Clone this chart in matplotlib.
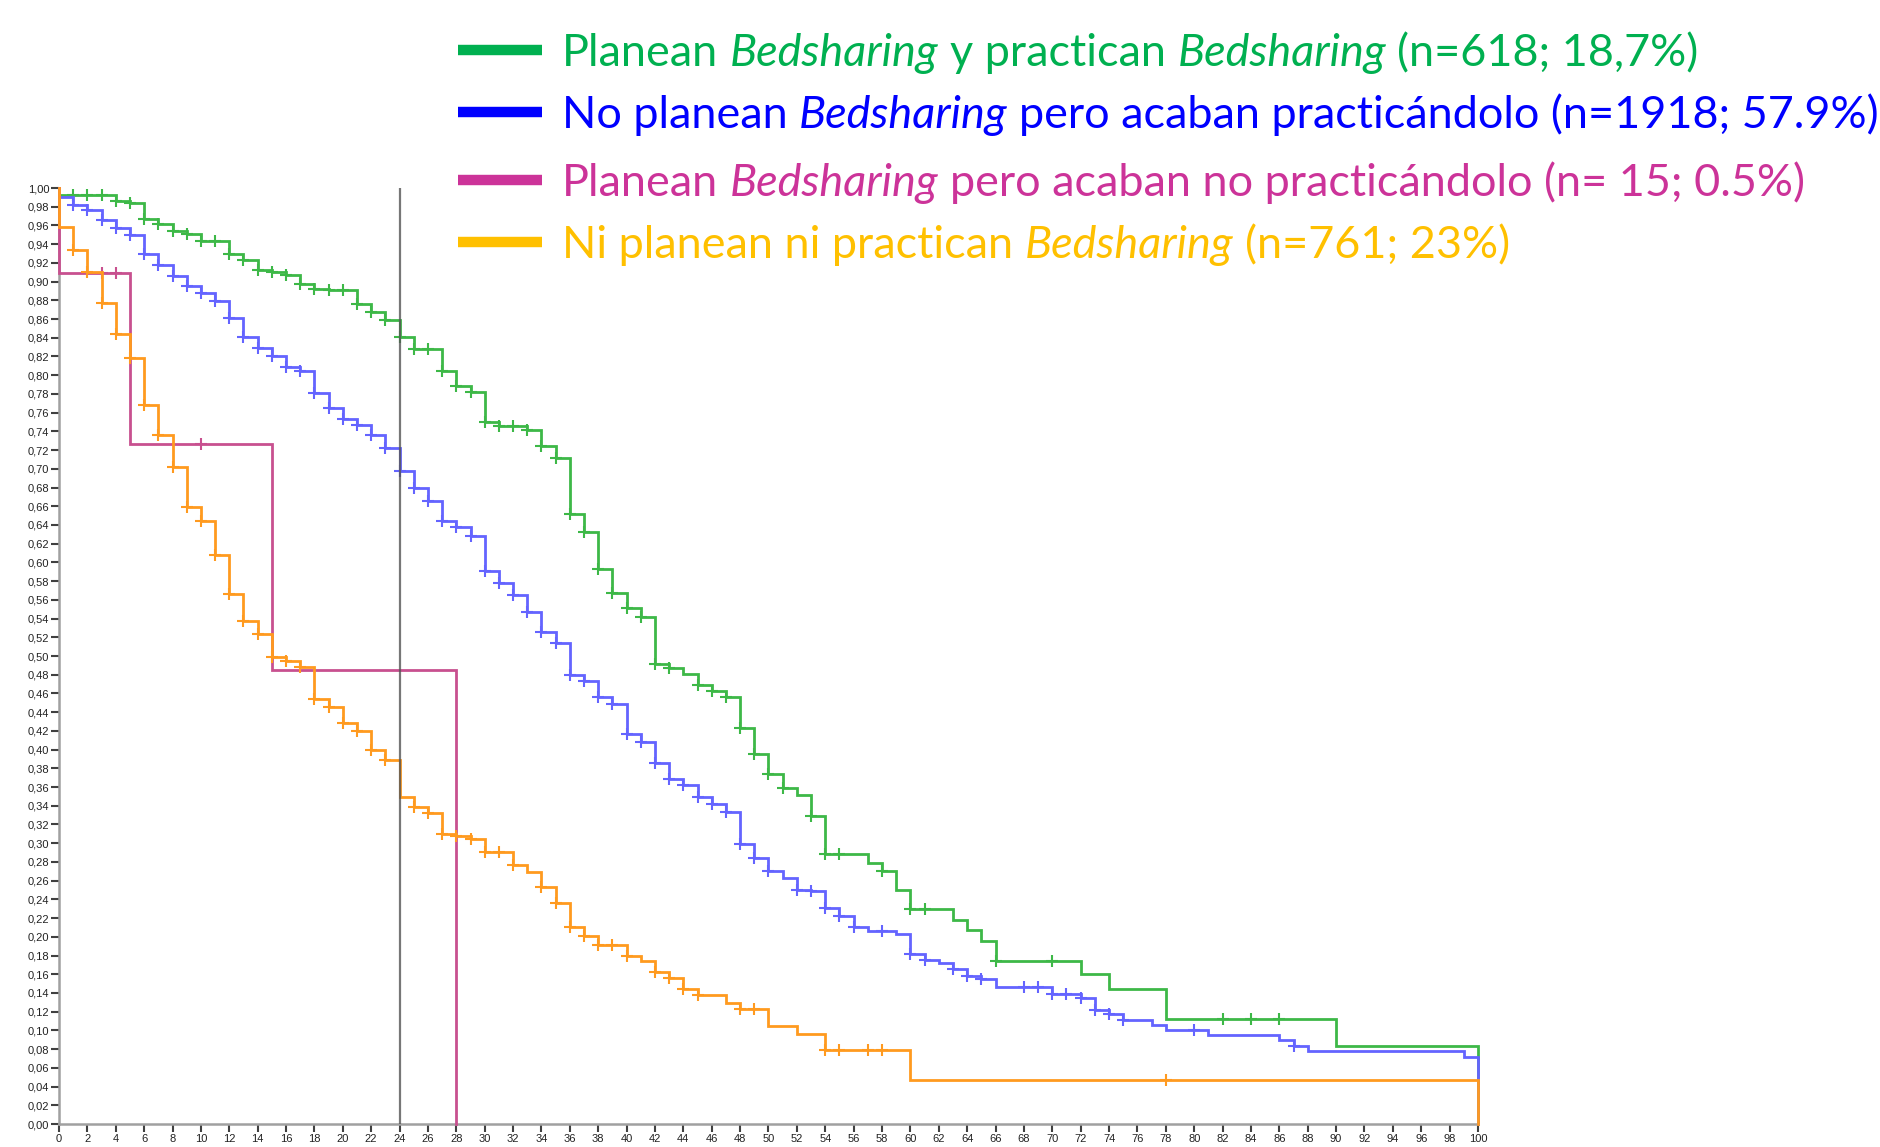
import matplotlib
matplotlib.use("Agg")
import matplotlib.pyplot as plt
from matplotlib.lines import Line2D

# ---------------- data ----------------
green_t = [0, 4, 5, 6, 7, 8, 9, 10, 12, 13, 14, 15, 16, 17, 18, 19, 21, 22, 23, 24, 25, 27, 28, 29,
           30, 31, 33, 34, 35, 36, 37, 38, 39, 40, 41, 42, 43, 44, 45, 46, 47, 48, 49, 50, 51, 52,
           53, 54, 57, 58, 59, 60, 63, 64, 65, 66, 72, 74, 78, 90, 100]
green_s = [0.992, 0.9865, 0.984, 0.967, 0.9615, 0.9545, 0.951, 0.943, 0.929, 0.923, 0.912, 0.910,
           0.9075, 0.8975, 0.8925, 0.891, 0.876, 0.868, 0.8595, 0.841, 0.8285, 0.805, 0.788, 0.782,
           0.7497, 0.746, 0.7415, 0.7247, 0.7112, 0.6517, 0.632, 0.5926, 0.5677, 0.5516, 0.5413,
           0.4918, 0.4872, 0.4808, 0.469, 0.4626, 0.4565, 0.4234, 0.3958, 0.3744, 0.359, 0.352,
           0.329, 0.2887, 0.279, 0.270, 0.250, 0.2297, 0.2183, 0.2072, 0.1958, 0.1745, 0.1607,
           0.1445, 0.112, 0.0835, 0.0]
green_cens = list(range(1, 44)) + [45, 46, 47, 48, 49, 50, 51, 53, 54, 55, 58, 60, 61, 66, 70, 82, 84, 86]

blue_t = [0, 1, 2, 3, 4, 5, 6, 7, 8, 9, 10, 11, 12, 13, 14, 15, 16, 17, 18, 19, 20, 21, 22, 23, 24,
          25, 26, 27, 28, 29, 30, 31, 32, 33, 34, 35, 36, 37, 38, 39, 40, 41, 42, 43, 44, 45, 46,
          47, 48, 49, 50, 51, 52, 53, 54, 55, 56, 57, 59, 60, 61, 62, 63, 64, 65, 66, 70, 72, 73,
          74, 75, 77, 78, 81, 86, 87, 88, 99, 100]
blue_s = [0.990, 0.982, 0.976, 0.966, 0.957, 0.950, 0.9295, 0.9175, 0.9064, 0.8957, 0.888, 0.879,
          0.861, 0.8406, 0.829, 0.820, 0.8085, 0.805, 0.781, 0.765, 0.7534, 0.747, 0.7356, 0.7224,
          0.698, 0.680, 0.6655, 0.644, 0.638, 0.628, 0.5911, 0.5783, 0.5652, 0.5467, 0.5253,
          0.5135, 0.4797, 0.4733, 0.4565, 0.4487, 0.417, 0.4076, 0.386, 0.369, 0.362, 0.349,
          0.3415, 0.3335, 0.2994, 0.2844, 0.270, 0.263, 0.250, 0.2487, 0.2304, 0.2226, 0.211,
          0.2065, 0.203, 0.1815, 0.1754, 0.172, 0.1654, 0.1583, 0.1554, 0.146, 0.139, 0.135,
          0.1213, 0.117, 0.1114, 0.106, 0.1007, 0.0949, 0.0893, 0.0835, 0.078, 0.0717, 0.0]
blue_cens = list(range(1, 51)) + [52, 53, 54, 55, 56, 58, 60, 61, 63, 64, 65, 68, 69, 70, 71, 72,
                                  73, 74, 75, 80, 87]

magenta_t = [0, 5, 15, 28]
magenta_s = [0.909, 0.727, 0.485, 0.0]
magenta_cens = [3, 4, 10]

orange_t = [0, 1, 2, 3, 4, 5, 6, 7, 8, 9, 10, 11, 12, 13, 14, 15, 16, 17, 18, 19, 20, 21, 22, 23,
            24, 25, 26, 27, 28, 29, 30, 32, 33, 34, 35, 36, 37, 38, 40, 41, 42, 43, 44, 45, 47,
            48, 50, 52, 54, 60, 100]
orange_s = [0.958, 0.934, 0.910, 0.877, 0.844, 0.818, 0.768, 0.736, 0.702, 0.659, 0.644, 0.608,
            0.5665, 0.537, 0.524, 0.499, 0.4944, 0.488, 0.454, 0.446, 0.428, 0.420, 0.400, 0.389,
            0.349, 0.339, 0.332, 0.310, 0.308, 0.305, 0.291, 0.277, 0.2687, 0.253, 0.236, 0.210,
            0.2008, 0.191, 0.1797, 0.174, 0.1626, 0.1565, 0.1447, 0.1375, 0.1297, 0.1225, 0.1047,
            0.0965, 0.0786, 0.0475, 0.0]
orange_cens = list(range(1, 24)) + [25, 26, 27, 28, 29, 30, 31, 32, 34, 35, 36, 37, 38, 39, 40,
                                    42, 43, 44, 45, 48, 49, 54, 55, 57, 58, 78]

reference_time = 24

x_ticks = list(range(0, 101, 2))
y_ticks = [i / 100 for i in range(0, 101, 2)]

legend_labels = [
    [("Planean ", False), ("Bedsharing", True), (" y practican ", False), ("Bedsharing", True),
     (" (n=618; 18,7%)", False)],
    [("No planean ", False), ("Bedsharing", True), (" pero acaban practicándolo (n=1918; 57.9%)", False)],
    [("Planean ", False), ("Bedsharing", True), (" pero acaban no practicándolo (n= 15; 0.5%)", False)],
    [("Ni planean ni practican ", False), ("Bedsharing", True), (" (n=761; 23%)", False)],
]
legend_colors = ["#00B050", "#0000FF", "#CC3399", "#FFC000"]
curve_colors = ["#3DB847", "#6464FF", "#C8508F", "#FF9A1F"]

# ---------------- figure ----------------
W, H = 1881, 1147
fig = plt.figure(figsize=(W / 100, H / 100), dpi=100)
ax = fig.add_axes([59 / W, 1 - 1124 / H, (1478 - 59) / W, (1124 - 188) / H])


def surv_line(t, s):
    xs = [0.0] + list(t)
    ys = [1.0] + list(s)
    return xs, ys


def s_at(t, s, x):
    v = 1.0
    for ti, si in zip(t, s):
        if ti <= x:
            v = si
    return v


series = [(green_t, green_s, green_cens), (blue_t, blue_s, blue_cens),
          (magenta_t, magenta_s, magenta_cens), (orange_t, orange_s, orange_cens)]

for (t, s, cens), col in zip(series, curve_colors):
    xs, ys = surv_line(t, s)
    ax.step(xs, ys, where="post", color=col, lw=2.0, zorder=3, clip_on=False,
            solid_joinstyle="miter")
    cy = [s_at(t, s, c) for c in cens]
    ax.plot(cens, cy, ls="none", marker="+", ms=8.5, mew=1.5, color=col, zorder=3)

ax.axvline(reference_time, ymin=0, ymax=1, color="#555555", lw=1.6, alpha=0.8, zorder=4)

ax.set_xlim(0, 100)
ax.set_ylim(0, 1.0)
ax.set_xticks(x_ticks)
ax.set_xticklabels([str(v) for v in x_ticks])
ax.set_yticks(y_ticks)
ax.set_yticklabels([f"{v:.2f}".replace(".", ",") for v in y_ticks])
for sp in ["top", "right"]:
    ax.spines[sp].set_visible(False)
for sp in ["left", "bottom"]:
    ax.spines[sp].set_color("#A0A0A0")
    ax.spines[sp].set_linewidth(1.8)
ax.tick_params(axis="both", direction="out", length=6, width=1.5, color="#404040",
               labelsize=8, labelcolor="#222222", pad=1)
for lab in ax.get_xticklabels() + ax.get_yticklabels():
    lab.set_fontfamily("Liberation Sans")

# ---------------- legend ----------------
fig.canvas.draw()
renderer = fig.canvas.get_renderer()
FS = 32.4
FONT = "Lato"


def text_w(txt, italic):
    t = fig.text(0, 0, txt, fontsize=FS, family=FONT, style="italic" if italic else "normal")
    w = t.get_window_extent(renderer).width
    t.remove()
    return w


space_w = text_w("a a", False) - text_w("aa", False)

bar_y = [50, 112, 180, 242]
for parts, col, by in zip(legend_labels, legend_colors, bar_y):
    yf = 1 - by / H
    fig.add_artist(Line2D([458 / W, 542 / W], [yf, yf], color=col, lw=7.5,
                          solid_capstyle="butt", transform=fig.transFigure))
    x = 562.0
    base = 1 - (by + 16) / H
    for txt, it in parts:
        lead = len(txt) - len(txt.lstrip(" "))
        trail = len(txt) - len(txt.rstrip(" "))
        x += lead * space_w
        core = txt.strip(" ")
        tt = fig.text(x / W, base, core, fontsize=FS, family=FONT,
                      style="italic" if it else "normal", color=col, va="baseline", ha="left")
        x += tt.get_window_extent(renderer).width
        x += trail * space_w

fig.savefig("out.png", dpi=100)
